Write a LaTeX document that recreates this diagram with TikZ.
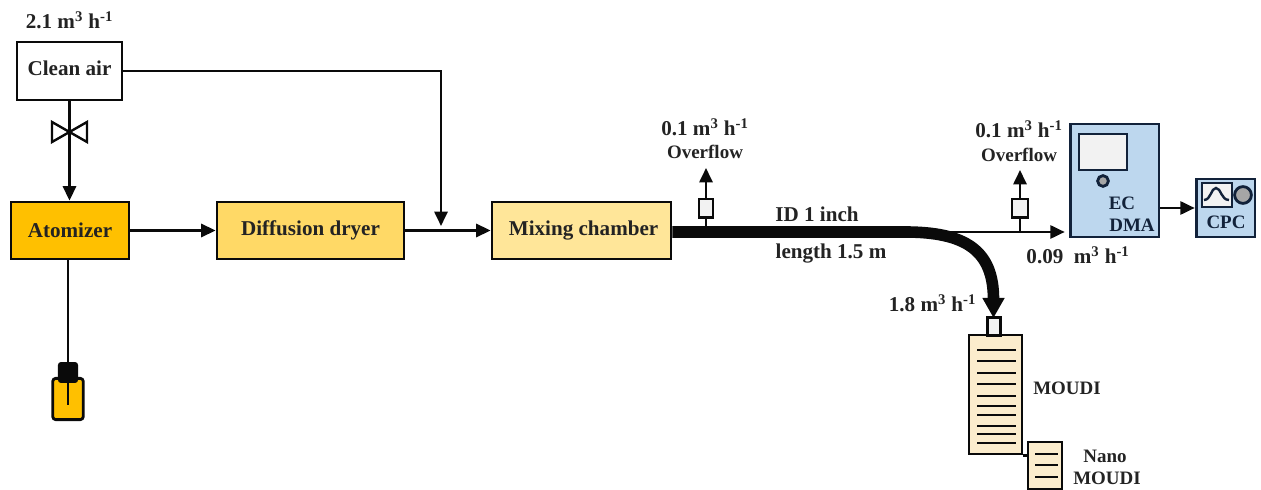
\documentclass[tikz,border=0pt]{standalone}
\usepackage{fontspec}
\setmainfont{Liberation Serif}
\usepackage{xcolor}
\usetikzlibrary{
    arrows.meta,
    positioning
}
\definecolor{boxBlack}{RGB}{10,10,10}
\definecolor{labelInk}{RGB}{35,35,35}
\definecolor{atomOrange}{RGB}{255,192,0}
\definecolor{dryerYellow}{RGB}{255,217,102}
\definecolor{mixYellow}{RGB}{255,230,153}
\definecolor{moudiCream}{RGB}{251,236,204}
\definecolor{dmaBlue}{RGB}{189,215,238}
\definecolor{dmaNavy}{RGB}{18,34,58}
\definecolor{screenGray}{RGB}{242,242,242}
\definecolor{knobGray}{RGB}{166,166,166}
\newcommand{\flowunit}{m\textsuperscript{3} h\textsuperscript{-1}}
\tikzset{
  unit/.style     = {draw=boxBlack, line width=0.065cm, inner sep=0pt, text=labelInk,
                     font=\fontsize{15}{18}\selectfont\bfseries},
  label/.style    = {inner sep=0pt, text=labelInk, align=center,
                     font=\fontsize{13.5}{16}\selectfont\bfseries},
  flow/.style     = {label, font=\fontsize{15}{18}\selectfont\bfseries},
  inst/.style     = {label, text=dmaNavy},
  instr/.style    = {draw=dmaNavy, line width=0.07cm, fill=dmaBlue, inner sep=0pt},
  port/.style     = {draw=boxBlack, line width=0.06cm, fill=screenGray, inner sep=0pt},
  stage/.style    = {draw=boxBlack, line width=0.06cm, fill=moudiCream, inner sep=0pt},
  plate/.style    = {boxBlack, line width=0.06cm},
  arr/.style      = {-{Stealth[length=0.36cm,width=0.33cm,inset=0pt]}, boxBlack,
                     line width=0.06cm},
  pipe/.style     = {boxBlack, line width=0.06cm},
  tube/.style     = {-{Stealth[length=0.5cm,width=0.52cm,inset=0pt]}, boxBlack,
                     line width=0.29cm}
}

\begin{document}
\begin{tikzpicture}[x=0.025cm, y=-0.025cm]
\useasboundingbox (0,0) rectangle (1261,490);

% --- MAIN LINE BOXES ---
\node[unit, text depth=4pt, minimum width=2.62cm, minimum height=1.45cm] (cleanair) at (69.5,71) {Clean air};
\node[unit, fill=atomOrange, minimum width=2.95cm, minimum height=1.43cm] (atomizer) at (70,230.5) {Atomizer};
\node[unit, fill=dryerYellow, minimum width=4.68cm, minimum height=1.43cm] (dryer) at (310.5,230.5) {Diffusion dryer};
\node[unit, fill=mixYellow, minimum width=4.48cm, minimum height=1.43cm] (mixing) at (581.5,230.5) {\hspace{3pt}Mixing chamber};

% --- BOTTLE UNDER THE ATOMIZER ---
\node[draw=boxBlack, line width=0.07cm, fill=atomOrange, rounded corners=2pt, inner sep=0pt,
      minimum width=0.76cm, minimum height=1.03cm] (bottle) at (68,399) {};
\node[fill=boxBlack, rounded corners=2pt, inner sep=0pt,
      minimum width=0.5cm, minimum height=0.52cm] (cap) at (68,372.5) {};
\coordinate (diptube) at (68,405);
\draw[pipe] (cap.south) -- (diptube);
\draw[pipe] (atomizer.south -| cap.north) -- (cap.north);

% --- VALVE ---
\coordinate (valve) at (69.5,132);
\draw[boxBlack, line width=0.06cm] (52,122) -- (87,142) -- (87,122) -- (52,142) -- cycle;

% --- CONNECTIONS: CLEAN AIR AND DRYING ---
\coordinate (merge) at (441,226);
\draw[arr] (cleanair.south) -- (atomizer.north -| cleanair.south);
\draw[arr] (cleanair.east) -| (merge);
\draw[arr] (atomizer.east) -- (dryer.west);
\draw[arr] (dryer.east) -- (mixing.west);

% --- EC DMA AND CPC ---
\node[instr, minimum width=2.22cm, minimum height=2.82cm] (ecdma) at (1114.5,180.5) {};
\node[draw=dmaNavy, line width=0.07cm, fill=screenGray, inner sep=0pt,
      minimum width=1.2cm, minimum height=0.9cm] (dmascreen) at (1103,152) {};
\node[circle, draw=dmaNavy, line width=0.07cm, fill=knobGray, inner sep=0pt,
      minimum size=0.27cm] (dmaknob) at (1103,181) {};
\node[inst] (ectext) at (1122,203) {EC};
\node[inst] (dmatext) at (1132,225) {DMA};

\node[instr, minimum width=1.47cm, minimum height=1.45cm] (cpc) at (1225.5,208) {};
\node[draw=dmaNavy, line width=0.07cm, fill=screenGray, inner sep=0pt,
      minimum width=0.75cm, minimum height=0.6cm] (cpcscreen) at (1217,195) {};
\node[circle, draw=dmaNavy, line width=0.07cm, fill=knobGray, inner sep=0pt,
      minimum size=0.42cm] (cpcknob) at (1243,195) {};
\draw[dmaNavy, line width=0.06cm] (1204,200) .. controls (1211,200) and (1211,188) .. (1216,188)
      .. controls (1221,188) and (1221,200) .. (1229,200);
\node[inst] (cpctext) at (1226,222) {CPC};
\draw[arr] (ecdma.east |- cpc.west) -- (cpc.west);

% --- SAMPLING TUBE ---
\coordinate (tubesplit) at (905,232);
\coordinate (tubetip) at (993.5,318);
\draw[tube] (mixing.east |- tubesplit) -- (tubesplit)
      .. controls (965,232) and (993.5,250) .. (tubetip);
\draw[arr, shorten >=0.1cm] (tubesplit) -- (tubesplit -| ecdma.west);

% --- OVERFLOW BRANCHES ---
\node[port, minimum width=0.36cm, minimum height=0.46cm] (portA) at (706,208.5) {};
\node[port, minimum width=0.4cm, minimum height=0.46cm] (portB) at (1020,208.5) {};
\coordinate (ventA) at (706,168);
\coordinate (ventB) at (1020,170);
\draw[pipe] (portA.south) -- (portA.south |- tubesplit);
\draw[pipe] (portB.south) -- (portB.south |- tubesplit);
\draw[arr] (portA.north) -- (ventA);
\draw[arr] (portB.north) -- (ventB);

% --- MOUDI STACKS ---
\node[stage, minimum width=1.32cm, minimum height=2.98cm] (moudi) at (995.5,394.5) {};
\node[port, minimum width=0.32cm, minimum height=0.44cm] (inlet) at (994,326.5) {};
\node[stage, minimum width=0.85cm, minimum height=1.17cm] (nano) at (1045,465.5) {};
\draw[pipe] (moudi.south east) -- (nano.west |- moudi.south east);
\foreach \y in {350,361,373,384,396,406,415,426,434,443}
  \draw[plate] (977,\y) -- (1016,\y);
\foreach \y in {454,465,477}
  \draw[plate] (1035,\y) -- (1058,\y);

% --- FLOW LABELS ---
\node[flow] (flowclean) at (69.5,20) {2.1 \flowunit};
\node[flow] (flowA) at (705,127) {0.1 \flowunit};
\node[label] (overA) at (705,152) {Overflow};
\node[flow] (flowB) at (1019,129) {0.1 \flowunit};
\node[label] (overB) at (1019,155) {Overflow};
\node[flow] (flowdma) at (1078,255) {0.09~ \flowunit};
\node[flow] (flowmoudi) at (932.5,303) {1.8 \flowunit};
\node[flow] (idtext) at (817,214) {ID 1 inch};
\node[flow] (lengthtext) at (831,254) {length 1.5 m};
\node[label] (moudilabel) at (1067,388) {MOUDI};
\node[label] (nanotext) at (1105,456) {Nano};
\node[label] (nanomoudi) at (1107,478) {MOUDI};
\end{tikzpicture}
\end{document}
